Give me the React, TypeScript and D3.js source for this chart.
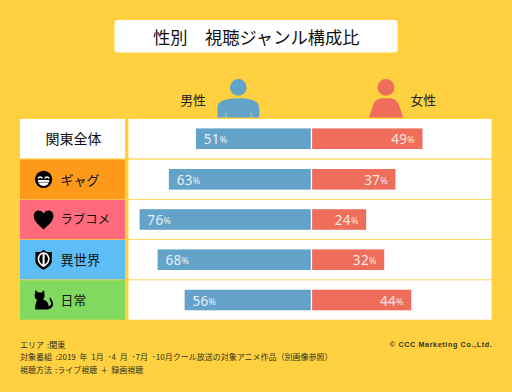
import React from "react";
import * as d3 from "d3";

const W = 512, H = 392;
const FONT = "'Noto Sans CJK JP','Noto Sans',sans-serif";

const categories = ["関東全体", "ギャグ", "ラブコメ", "異世界", "日常"];
const maleValues = [51, 63, 76, 68, 56];
const femaleValues = [49, 37, 24, 32, 44];
const cellColors = ["#ffffff", "#ff991a", "#ff6b7c", "#5fbdf5", "#82d95f"];
const labelSizes = [14, 13, 12.4, 13.2, 12.8];
const seriesNames = ["男性", "女性"];
const titleText = "性別　視聴ジャンル構成比";
const noteLines = [
  "エリア :関東",
  "対象番組 :2019 年 1月 ･4 月 ･7月 ･10月クール放送の対象アニメ作品（別画像参照）",
  "視聴方法 :ライブ視聴 ＋ 録画視聴",
];
const copyright = "© CCC Marketing Co.,Ltd.";

const BG = "#ffd03f", BLUE = "#63a3c9", RED = "#ee6e5b";
const rowTops = [119, 159.6, 199.8, 240, 280.3];
const rowH = 39.4;
const barH = 20.6;
const centerL = 310.8, centerR = 312.1;
const len = d3.scaleLinear().domain([0, 100]).range([0, 225.3]);

function Icon({ kind, cx, cy }: { kind: number; cx: number; cy: number }) {
  const t = `translate(${cx},${cy})`;
  if (kind === 1)
    return (
      <g transform={t}>
        <circle r={8.6} fill="#000" />
        <path d="M-5.6,-0.8 A2.5,2.8 0 0 1 -1.2,-0.8 M1.2,-0.8 A2.5,2.8 0 0 1 5.6,-0.8" fill="none" stroke="#fff" strokeWidth={1.5} />
        <path d="M-5.8,0.8 H5.8 A5.8,5.8 0 0 1 -5.8,0.8 Z" fill="#fff" />
        <path d="M-5,3 H5" stroke="#000" strokeWidth={0.5} />
      </g>
    );
  if (kind === 2)
    return (
      <path transform={t} d="M0,10 C-4,6 -9.8,2 -9.8,-3.6 C-9.8,-7.5 -7,-9 -5,-9 C-3,-9 -1,-8 0,-5.8 C1,-8 3,-9 5,-9 C7,-9 9.8,-7.5 9.8,-3.6 C9.8,2 4,6 0,10 Z" fill="#000" />
    );
  if (kind === 3)
    return (
      <g transform={t}>
        <path d="M0,-10 L3,-7.6 L8.2,-7.8 L8.2,1 C8.2,5 4,8 0,10 C-4,8 -8.2,5 -8.2,1 L-8.2,-7.8 L-3,-7.6 Z" fill="#000" />
        <path d="M0,-7.4 C3.2,-7.4 6,-4.4 6,-0.8 C6,3 3,5.6 0,7.4 C-3,5.6 -6,3 -6,-0.8 C-6,-4.4 -3.2,-7.4 0,-7.4 Z" fill="#fff" />
        <path d="M0,-5.8 C2.4,-5.8 4.4,-3.6 4.4,-0.8 C4.4,2 2.2,4 0,5.4 C-2.2,4 -4.4,2 -4.4,-0.8 C-4.4,-3.6 -2.4,-5.8 0,-5.8 Z" fill="#000" />
        <rect x={-1} y={-5.8} width={2} height={11.2} fill="#fff" />
      </g>
    );
  if (kind === 4)
    return (
      <path transform={t} fill="#000" d="M-8,-10 L-5.5,-7.5 L-2,-7.5 L0.5,-10 L1,-4 C1,-2.5 0,-1.2 -0.5,-0.5 C3,0.5 5,3 5,6 C6.5,6 7.5,5 7.5,3.5 C7.5,1.5 6,1 6,-1 C6,-2 6.8,-2.5 7.5,-2 C7,-1 9.5,1 9.5,3.8 C9.5,7 7,9.5 3,9.5 L-8.5,9.5 C-8.5,6 -8,3 -6.5,0 C-8,-1 -9,-2.5 -9,-4.5 Z" />
    );
  return null;
}

export default function App() {
  const rows = categories.map((c, i) => ({ c, i, m: maleValues[i], f: femaleValues[i], top: rowTops[i] }));
  return (
    <svg width={W} height={H} viewBox={`0 0 ${W} ${H}`} style={{ position: "absolute", left: 0, top: 0, fontFamily: FONT }}>
      <rect width={W} height={H} fill={BG} />
      <rect x={114.5} y={20} width={283} height={32.5} rx={3} fill="#fff" />
      <text x={256.3} y={36.5} textAnchor="middle" dominantBaseline="central" fontSize={17.3} fill="#111">{titleText}</text>

      <text x={193} y={99.5} textAnchor="middle" dominantBaseline="central" fontSize={12.8} fill="#222">{seriesNames[0]}</text>
      <text x={423.2} y={99.5} textAnchor="middle" dominantBaseline="central" fontSize={12.8} fill="#222">{seriesNames[1]}</text>

      <g fill={BLUE}>
        <circle cx={238.3} cy={87.4} r={8.3} />
        <path d="M217.4,117.6 V108 C217.4,101.5 224,98.3 238.3,98.2 C252.5,98.3 259.2,101.5 259.2,108 V117.6 Z" />
      </g>
      <path d="M225.8,112.5 V117.6 M251,112.5 V117.6" stroke={BG} strokeWidth={0.9} opacity={0.8} />
      <g fill={RED}>
        <circle cx={386} cy={87.4} r={8.4} />
        <path d="M369,117.6 L373,105.5 C374.5,100.5 378,98.2 383,98.2 L389,98.2 C394,98.2 397.5,100.5 399,105.5 L403.4,117.6 Z" />
      </g>

      {rows.map(({ c, i, m, f, top }) => {
        const barY = top + 9.4;
        const ml = len(m), fl = len(f);
        const mid = top + rowH / 2;
        return (
          <g key={c}>
            <rect x={20} y={top} width={105} height={rowH} fill={cellColors[i]} />
            <rect x={128.5} y={top} width={363} height={rowH} fill="#fff" />
            <Icon kind={i} cx={43.6} cy={mid} />
            <text x={i === 0 ? 73.5 : 60.6} y={mid - 0.3} textAnchor={i === 0 ? "middle" : "start"} dominantBaseline="central" fontSize={labelSizes[i]} fill="#111">{c}</text>
            <rect x={centerL - ml} y={barY} width={ml} height={barH} fill={BLUE} />
            <rect x={centerR} y={barY} width={fl} height={barH} fill={RED} />
            <text x={centerL - ml + 7.8} y={barY + barH / 2 + 0.5} dominantBaseline="central" fill="#e6f0f6" fontSize={13.5} fontFamily="'Noto Sans',sans-serif" letterSpacing={0.3}>
              {m}<tspan fontSize={9}>%</tspan>
            </text>
            <text x={centerR + fl - 7.5} y={barY + barH / 2 + 0.5} dominantBaseline="central" textAnchor="end" fill="#fde8e3" fontSize={13.5} fontFamily="'Noto Sans',sans-serif" letterSpacing={0.3}>
              {f}<tspan fontSize={9}>%</tspan>
            </text>
          </g>
        );
      })}

      {noteLines.map((n, i) => (
        <text key={n} x={20} y={344.4 + i * 12.3} dominantBaseline="central" fontSize={8} fill="#33301f" style={{ wordSpacing: i === 1 ? 2 : 1.2 }}>{n}</text>
      ))}
      <text x={492.3} y={344.4} textAnchor="end" dominantBaseline="central" fontSize={7.2} fontWeight={700} letterSpacing={0.62} fill="#33301f" fontFamily="'Liberation Sans',sans-serif">{copyright}</text>
    </svg>
  );
}
